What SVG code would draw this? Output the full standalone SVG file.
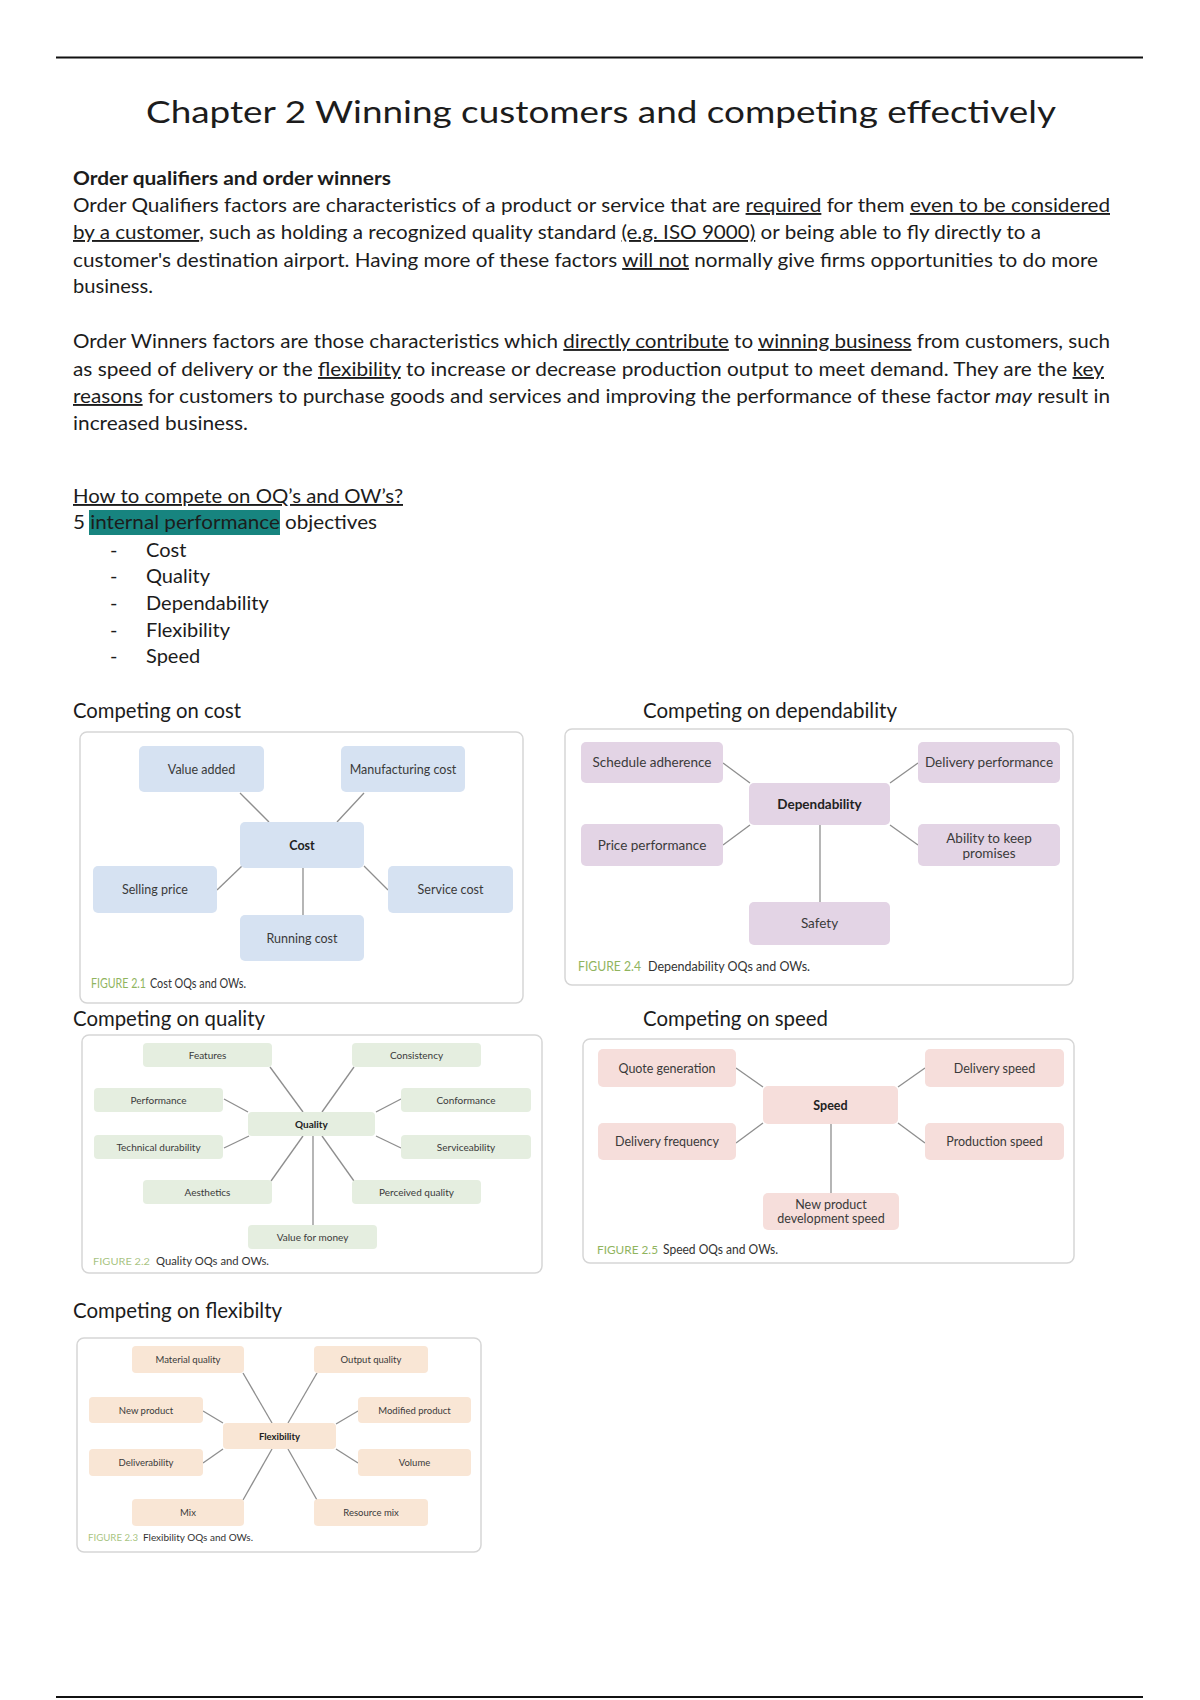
<svg xmlns="http://www.w3.org/2000/svg" width="1200" height="1700" viewBox="0 0 1200 1700">
<style>
.t{font-family:Lato,"Carlito","Liberation Sans",sans-serif;fill:#1c1c1c}
.body{font-size:19px}
.h{font-size:21px}
.u{text-decoration:underline}
.panel{fill:#ffffff;stroke:#d6d6d6;stroke-width:1.5}
.nc{fill:#d6e2f2}
.nd{fill:#e3d4e5}
.nq{fill:#e5eee0}
.ns{fill:#f6dedb}
.nf{fill:#f9e6d5}
.lbl{font-family:Lato,"Carlito","Liberation Sans",sans-serif;fill:#3a3a3a;text-anchor:middle}
.b{font-weight:bold;fill:#222}
.conn line{stroke:#8e8e8e;stroke-width:1.3}
.fig{font-family:Lato,"Carlito","Liberation Sans",sans-serif;fill:#90b45e}
.cap{font-family:Lato,"Carlito","Liberation Sans",sans-serif;fill:#333}
</style>
<rect width="1200" height="1700" fill="#ffffff"/>
<line x1="56" y1="57.5" x2="1143" y2="57.5" stroke="#111" stroke-width="2"/>
<line x1="56" y1="1697" x2="1143" y2="1697" stroke="#111" stroke-width="2"/>

<g id="title">
<text class="t" x="146" y="123" font-size="31" textLength="910" lengthAdjust="spacingAndGlyphs">Chapter 2 Winning customers and competing effectively</text>
</g>

<g id="text-body">
<text class="t body" x="73" y="185" font-weight="bold" textLength="318" lengthAdjust="spacingAndGlyphs">Order qualifiers and order winners</text>
<text class="t body" x="73" y="212" textLength="1037" lengthAdjust="spacingAndGlyphs">Order Qualifiers factors are characteristics of a product or service that are <tspan class="u">required</tspan> for them <tspan class="u">even to be considered</tspan></text>
<text class="t body" x="73" y="239" textLength="968" lengthAdjust="spacingAndGlyphs"><tspan class="u">by a customer</tspan>, such as holding a recognized quality standard <tspan class="u">(e.g. ISO 9000)</tspan> or being able to fly directly to a</text>
<text class="t body" x="73" y="267" textLength="1025" lengthAdjust="spacingAndGlyphs">customer's destination airport. Having more of these factors <tspan class="u">will not</tspan> normally give firms opportunities to do more</text>
<text class="t body" x="73" y="293" textLength="80" lengthAdjust="spacingAndGlyphs">business.</text>

<text class="t body" x="73" y="348" textLength="1037" lengthAdjust="spacingAndGlyphs">Order Winners factors are those characteristics which <tspan class="u">directly contribute</tspan> to <tspan class="u">winning business</tspan> from customers, such</text>
<text class="t body" x="73" y="376" textLength="1031" lengthAdjust="spacingAndGlyphs">as speed of delivery or the <tspan class="u">flexibility</tspan> to increase or decrease production output to meet demand. They are the <tspan class="u">key</tspan></text>
<text class="t body" x="73" y="403" textLength="1037" lengthAdjust="spacingAndGlyphs"><tspan class="u">reasons</tspan> for customers to purchase goods and services and improving the performance of these factor <tspan font-style="italic">may</tspan> result in</text>
<text class="t body" x="73" y="430" textLength="175" lengthAdjust="spacingAndGlyphs">increased business.</text>

<text class="t body" x="73" y="503" font-size="20" textLength="330" lengthAdjust="spacingAndGlyphs"><tspan class="u">How to compete on OQ’s and OW’s?</tspan></text>
<rect x="89" y="510" width="191" height="25" fill="#17847f"/>
<text class="t body" x="73" y="529" font-size="20" textLength="304" lengthAdjust="spacingAndGlyphs">5 internal performance objectives</text>
<g class="t" font-size="20">
<text x="110" y="557">-</text><text x="146" y="557">Cost</text>
<text x="110" y="583">-</text><text x="146" y="583">Quality</text>
<text x="110" y="610">-</text><text x="146" y="610">Dependability</text>
<text x="110" y="637">-</text><text x="146" y="637">Flexibility</text>
<text x="110" y="663">-</text><text x="146" y="663">Speed</text>
</g>

<text class="t h" x="73" y="718" textLength="168" lengthAdjust="spacingAndGlyphs">Competing on cost</text>
<text class="t h" x="643" y="718" textLength="254" lengthAdjust="spacingAndGlyphs">Competing on dependability</text>
<text class="t h" x="73" y="1026" textLength="192" lengthAdjust="spacingAndGlyphs">Competing on quality</text>
<text class="t h" x="643" y="1026" textLength="185" lengthAdjust="spacingAndGlyphs">Competing on speed</text>
<text class="t h" x="73" y="1318" textLength="209" lengthAdjust="spacingAndGlyphs">Competing on flexibilty</text>
</g>

<!-- Cost diagram -->
<g id="cost-diagram">
<rect class="panel" x="80" y="732" width="443" height="271" rx="7"/>
<g class="conn" id="cost-connectors">
<line x1="240" y1="793" x2="269" y2="822"/>
<line x1="364" y1="793" x2="337" y2="822"/>
<line x1="217" y1="890" x2="242" y2="866"/>
<line x1="388" y1="890" x2="364" y2="866"/>
<line x1="303" y1="868" x2="303" y2="915"/>
</g>
<g font-size="12.5">
<g id="cost-value-added"><rect class="nc" x="139" y="746" width="125" height="46" rx="5"/><text class="lbl" x="201.5" y="773.5">Value added</text></g>
<g id="cost-manufacturing"><rect class="nc" x="341" y="746" width="124" height="46" rx="5"/><text class="lbl" x="403" y="773.5">Manufacturing cost</text></g>
<g id="cost-center"><rect class="nc" x="240" y="822" width="124" height="46" rx="5"/><text class="lbl b" x="302" y="849.5">Cost</text></g>
<g id="cost-selling-price"><rect class="nc" x="93" y="866" width="124" height="47" rx="5"/><text class="lbl" x="155" y="894">Selling price</text></g>
<g id="cost-service"><rect class="nc" x="388" y="866" width="125" height="47" rx="5"/><text class="lbl" x="450.5" y="894">Service cost</text></g>
<g id="cost-running"><rect class="nc" x="240" y="915" width="124" height="46" rx="5"/><text class="lbl" x="302" y="942.5">Running cost</text></g>
</g>
<text x="91" y="988" font-size="12.5"><tspan class="fig" textLength="55" lengthAdjust="spacingAndGlyphs">FIGURE 2.1</tspan></text>
<text class="cap" x="150" y="988" font-size="13" textLength="96" lengthAdjust="spacingAndGlyphs">Cost OQs and OWs.</text>
</g>

<!-- Dependability diagram -->
<g id="dependability-diagram">
<rect class="panel" x="565" y="729" width="508" height="256" rx="7"/>
<g class="conn" id="dep-connectors">
<line x1="723" y1="763" x2="750" y2="783"/>
<line x1="918" y1="763" x2="890" y2="783"/>
<line x1="723" y1="845" x2="750" y2="825"/>
<line x1="918" y1="845" x2="890" y2="825"/>
<line x1="820" y1="825" x2="820" y2="902"/>
</g>
<g font-size="13.5">
<g id="dep-schedule"><rect class="nd" x="581" y="742" width="142" height="41" rx="5"/><text class="lbl" x="652" y="767">Schedule adherence</text></g>
<g id="dep-delivery"><rect class="nd" x="918" y="742" width="142" height="41" rx="5"/><text class="lbl" x="989" y="767">Delivery performance</text></g>
<g id="dep-center"><rect class="nd" x="749" y="783" width="141" height="42" rx="5"/><text class="lbl b" x="819.5" y="808.5">Dependability</text></g>
<g id="dep-price"><rect class="nd" x="581" y="824" width="142" height="42" rx="5"/><text class="lbl" x="652" y="849.5">Price performance</text></g>
<g id="dep-ability"><rect class="nd" x="918" y="824" width="142" height="42" rx="5"/><text class="lbl" x="989" y="843">Ability to keep</text><text class="lbl" x="989" y="858">promises</text></g>
<g id="dep-safety"><rect class="nd" x="749" y="902" width="141" height="43" rx="5"/><text class="lbl" x="819.5" y="928">Safety</text></g>
</g>
<text class="fig" x="578" y="971" font-size="12.5" textLength="63" lengthAdjust="spacingAndGlyphs">FIGURE 2.4</text>
<text class="cap" x="648" y="971" font-size="13.5" textLength="162" lengthAdjust="spacingAndGlyphs">Dependability OQs and OWs.</text>
</g>

<!-- Quality diagram -->
<g id="quality-diagram">
<rect class="panel" x="82" y="1035" width="460" height="238" rx="7"/>
<g class="conn" id="quality-connectors">
<line x1="270" y1="1067" x2="303" y2="1112"/>
<line x1="354" y1="1067" x2="322" y2="1112"/>
<line x1="224" y1="1099" x2="248" y2="1112"/>
<line x1="401" y1="1099" x2="376" y2="1112"/>
<line x1="224" y1="1148" x2="249" y2="1136"/>
<line x1="401" y1="1148" x2="376" y2="1136"/>
<line x1="271" y1="1181" x2="303" y2="1136"/>
<line x1="354" y1="1181" x2="322" y2="1136"/>
<line x1="313" y1="1136" x2="313" y2="1225"/>
</g>
<g font-size="10">
<g id="q-features"><rect class="nq" x="143" y="1043" width="129" height="24" rx="4"/><text class="lbl" x="207.5" y="1058.5">Features</text></g>
<g id="q-consistency"><rect class="nq" x="352" y="1043" width="129" height="24" rx="4"/><text class="lbl" x="416.5" y="1058.5">Consistency</text></g>
<g id="q-performance"><rect class="nq" x="94" y="1088" width="129" height="24" rx="4"/><text class="lbl" x="158.5" y="1103.5">Performance</text></g>
<g id="q-conformance"><rect class="nq" x="401" y="1088" width="130" height="24" rx="4"/><text class="lbl" x="466" y="1103.5">Conformance</text></g>
<g id="q-center"><rect class="nq" x="248" y="1112" width="127" height="24" rx="4"/><text class="lbl b" x="311.5" y="1127.5">Quality</text></g>
<g id="q-technical"><rect class="nq" x="94" y="1135" width="129" height="24" rx="4"/><text class="lbl" x="158.5" y="1150.5">Technical durability</text></g>
<g id="q-serviceability"><rect class="nq" x="401" y="1135" width="130" height="24" rx="4"/><text class="lbl" x="466" y="1150.5">Serviceability</text></g>
<g id="q-aesthetics"><rect class="nq" x="143" y="1180" width="129" height="24" rx="4"/><text class="lbl" x="207.5" y="1195.5">Aesthetics</text></g>
<g id="q-perceived"><rect class="nq" x="352" y="1180" width="129" height="24" rx="4"/><text class="lbl" x="416.5" y="1195.5">Perceived quality</text></g>
<g id="q-value"><rect class="nq" x="248" y="1225" width="129" height="24" rx="4"/><text class="lbl" x="312.5" y="1240.5">Value for money</text></g>
</g>
<text class="fig" x="93" y="1265" font-size="10" textLength="57" lengthAdjust="spacingAndGlyphs" fill-opacity="0.8">FIGURE 2.2</text>
<text class="cap" x="156" y="1265" font-size="10.5" textLength="113" lengthAdjust="spacingAndGlyphs">Quality OQs and OWs.</text>
</g>

<!-- Speed diagram -->
<g id="speed-diagram">
<rect class="panel" x="583" y="1039" width="491" height="224" rx="7"/>
<g class="conn" id="speed-connectors">
<line x1="736" y1="1068" x2="763" y2="1087"/>
<line x1="925" y1="1068" x2="898" y2="1087"/>
<line x1="736" y1="1143" x2="763" y2="1123"/>
<line x1="925" y1="1143" x2="898" y2="1123"/>
<line x1="831" y1="1124" x2="831" y2="1193"/>
</g>
<g font-size="12.5">
<g id="s-quote"><rect class="ns" x="598" y="1049" width="138" height="38" rx="5"/><text class="lbl" x="667" y="1072.5">Quote generation</text></g>
<g id="s-delivery-speed"><rect class="ns" x="925" y="1049" width="139" height="38" rx="5"/><text class="lbl" x="994.5" y="1072.5">Delivery speed</text></g>
<g id="s-center"><rect class="ns" x="763" y="1086" width="135" height="38" rx="5"/><text class="lbl b" x="830.5" y="1109.5">Speed</text></g>
<g id="s-frequency"><rect class="ns" x="598" y="1123" width="138" height="37" rx="5"/><text class="lbl" x="667" y="1146">Delivery frequency</text></g>
<g id="s-production"><rect class="ns" x="925" y="1123" width="139" height="37" rx="5"/><text class="lbl" x="994.5" y="1146">Production speed</text></g>
<g id="s-npd"><rect class="ns" x="763" y="1193" width="136" height="37" rx="5"/><text class="lbl" x="831" y="1209">New product</text><text class="lbl" x="831" y="1223">development speed</text></g>
</g>
<text class="fig" x="597" y="1254" font-size="12" textLength="61" lengthAdjust="spacingAndGlyphs">FIGURE 2.5</text>
<text class="cap" x="663" y="1254" font-size="12.5" textLength="115" lengthAdjust="spacingAndGlyphs">Speed OQs and OWs.</text>
</g>

<!-- Flexibility diagram -->
<g id="flexibility-diagram">
<rect class="panel" x="77" y="1338" width="404" height="214" rx="7"/>
<g class="conn" id="flex-connectors">
<line x1="243" y1="1373" x2="272" y2="1423"/>
<line x1="317" y1="1373" x2="288" y2="1423"/>
<line x1="203" y1="1411" x2="223" y2="1423"/>
<line x1="358" y1="1411" x2="336" y2="1424"/>
<line x1="203" y1="1463" x2="223" y2="1449"/>
<line x1="358" y1="1463" x2="336" y2="1449"/>
<line x1="243" y1="1500" x2="272" y2="1449"/>
<line x1="317" y1="1500" x2="288" y2="1449"/>
</g>
<g font-size="9.5">
<g id="f-material"><rect class="nf" x="132" y="1346" width="112" height="27" rx="4"/><text class="lbl" x="188" y="1363">Material quality</text></g>
<g id="f-output"><rect class="nf" x="314" y="1346" width="114" height="27" rx="4"/><text class="lbl" x="371" y="1363">Output quality</text></g>
<g id="f-new-product"><rect class="nf" x="89" y="1397" width="114" height="26" rx="4"/><text class="lbl" x="146" y="1413.5">New product</text></g>
<g id="f-modified"><rect class="nf" x="358" y="1397" width="113" height="26" rx="4"/><text class="lbl" x="414.5" y="1413.5">Modified product</text></g>
<g id="f-center"><rect class="nf" x="223" y="1423" width="113" height="26" rx="4"/><text class="lbl b" x="279.5" y="1439.5">Flexibility</text></g>
<g id="f-deliverability"><rect class="nf" x="89" y="1449" width="114" height="27" rx="4"/><text class="lbl" x="146" y="1466">Deliverability</text></g>
<g id="f-volume"><rect class="nf" x="358" y="1449" width="113" height="27" rx="4"/><text class="lbl" x="414.5" y="1466">Volume</text></g>
<g id="f-mix"><rect class="nf" x="132" y="1499" width="112" height="27" rx="4"/><text class="lbl" x="188" y="1516">Mix</text></g>
<g id="f-resource-mix"><rect class="nf" x="314" y="1499" width="114" height="27" rx="4"/><text class="lbl" x="371" y="1516">Resource mix</text></g>
</g>
<text class="fig" x="88" y="1541" font-size="9" textLength="50" lengthAdjust="spacingAndGlyphs" fill-opacity="0.8">FIGURE 2.3</text>
<text class="cap" x="143" y="1541" font-size="9.5" textLength="110" lengthAdjust="spacingAndGlyphs">Flexibility OQs and OWs.</text>
</g>
</svg>
